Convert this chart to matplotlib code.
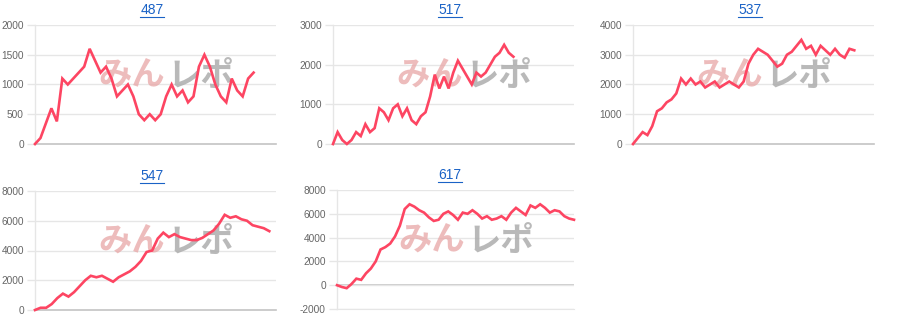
import matplotlib
matplotlib.use("Agg")
import matplotlib.pyplot as plt
from matplotlib.lines import Line2D

plt.rcParams['font.family'] = ['Liberation Sans', 'DejaVu Sans']

# ---- data ----
titles = ["487", "517", "537", "547", "617"]

s487 = [0, 100, 350, 600, 380, 1100, 1000, 1100, 1200, 1300, 1600, 1400, 1200, 1300,
        1100, 800, 900, 1000, 800, 500, 400, 500, 400, 500, 800, 1000, 800, 900, 700,
        800, 1300, 1500, 1300, 1000, 800, 700, 1100, 900, 800, 1100, 1200]
s517 = [0, 300, 100, 0, 100, 300, 200, 500, 300, 400, 900, 800, 600, 900, 1000, 700,
        900, 600, 500, 700, 800, 1200, 1750, 1400, 1700, 1400, 1800, 2100, 1900, 1700,
        1500, 1800, 1700, 1800, 2000, 2200, 2300, 2500, 2300, 2200]
s537 = [0, 200, 400, 300, 600, 1100, 1200, 1400, 1500, 1700, 2200, 2000, 2200, 2000,
        2100, 1900, 2000, 2100, 1900, 2000, 2100, 2000, 1900, 2100, 2700, 3000, 3200,
        3100, 3000, 2800, 2600, 2700, 3000, 3100, 3300, 3500, 3200, 3300, 3000, 3300,
        3150, 3000, 3200, 3000, 2900, 3200, 3150]
s547 = [0, 150, 150, 400, 800, 1100, 900, 1200, 1600, 2000, 2300, 2200, 2300, 2100,
        1900, 2200, 2400, 2600, 2900, 3300, 3900, 4000, 4800, 5200, 4900, 5100, 4900,
        4800, 4700, 4700, 4850, 5100, 5350, 5800, 6400, 6200, 6300, 6100, 6000, 5700,
        5600, 5500, 5300]
s617 = [0, -150, -250, 100, 550, 450, 1000, 1400, 2000, 3000, 3200, 3500, 4100, 5000,
        6400, 6800, 6600, 6300, 6100, 5700, 5400, 5500, 6000, 6200, 5900, 5500, 6100,
        6000, 6300, 6000, 5600, 5800, 5500, 5600, 5800, 5500, 6100, 6500, 6200, 5900,
        6700, 6500, 6800, 6500, 6100, 6300, 6200, 5800, 5600, 5500]
series = [s487, s517, s537, s547, s617]

yticks = [
    [0, 500, 1000, 1500, 2000],
    [0, 1000, 2000, 3000],
    [0, 1000, 2000, 3000, 4000],
    [0, 2000, 4000, 6000, 8000],
    [-2000, 0, 2000, 4000, 6000, 8000],
]
x_extent = [44.1, 52.1, 50.1, 43.2, 49.0]

# ---- layout (pixels) ----
W, H = 900, 330
# left, top, right, bottom
boxes = [
    (35, 25, 276, 144),
    (333, 25, 574, 144),
    (633, 25, 874, 144),
    (35, 191, 276, 310),
    (337, 190, 574, 309),
]
title_pos = [(152, 10), (450, 10), (750, 10), (152, 176), (450, 175)]

LINE = '#fd4562'
GRID = '#e6e6e6'
TICK = '#666666'
LINK = '#1a62c6'

fig = plt.figure(figsize=(W / 100, H / 100), dpi=100)
fig.patch.set_facecolor('white')

title_texts = []
for i, (vals, ttl) in enumerate(zip(series, titles)):
    l, t, r, b = boxes[i]
    ax = fig.add_axes([l / W, 1 - b / H, (r - l) / W, (b - t) / H])
    ax.set_facecolor('none')
    xs = list(range(len(vals)))
    ax.plot(xs, vals, color=LINE, lw=1.9, solid_joinstyle='miter', zorder=5, clip_on=False)
    ax.set_xlim(0, x_extent[i])
    yt = yticks[i]
    ax.set_ylim(yt[0], yt[-1])
    ax.set_yticks(yt)
    ax.set_yticklabels([str(v) for v in yt])
    ax.set_xticks([])
    ax.grid(axis='y', color=GRID, lw=1.0, zorder=0)
    ax.tick_params(axis='y', length=6, width=1.0, color=GRID, pad=2,
                   labelsize=7.3, labelcolor=TICK)
    for sp in ['top', 'right']:
        ax.spines[sp].set_visible(False)
    ax.spines['left'].set_color(GRID)
    ax.spines['left'].set_linewidth(1.0)
    if yt[0] < 0:
        ax.spines['bottom'].set_color(GRID)
        ax.axhline(0, color='#c4c4c4', lw=1.2, zorder=1)
    else:
        ax.spines['bottom'].set_color('#c4c4c4')
        ax.spines['bottom'].set_linewidth(1.2)
    # watermark
    ax.text(0.40, 0.57, "みん", transform=ax.transAxes, ha='center', va='center',
            fontsize=24, fontweight='bold', color='#e8a6a6', alpha=0.75,
            family=['Noto Sans CJK JP'], zorder=2)
    ax.text(0.69, 0.57, "レポ", transform=ax.transAxes, ha='center', va='center',
            fontsize=24, fontweight='bold', color='#adadad', alpha=0.85,
            family=['Noto Sans CJK JP'], zorder=2)
    tx, ty = title_pos[i]
    tt = fig.text(tx / W, 1 - ty / H, ttl, ha='center', va='center',
                  fontsize=10, color=LINK)
    title_texts.append(tt)

fig.canvas.draw()
renderer = fig.canvas.get_renderer()
for tt in title_texts:
    bb = tt.get_window_extent(renderer)
    y = bb.y0 + 0.5
    fig.add_artist(Line2D([bb.x0 / W, bb.x1 / W], [y / H, y / H],
                          transform=fig.transFigure, color=LINK, lw=0.8))

fig.savefig('out.png', dpi=100, facecolor='white')
